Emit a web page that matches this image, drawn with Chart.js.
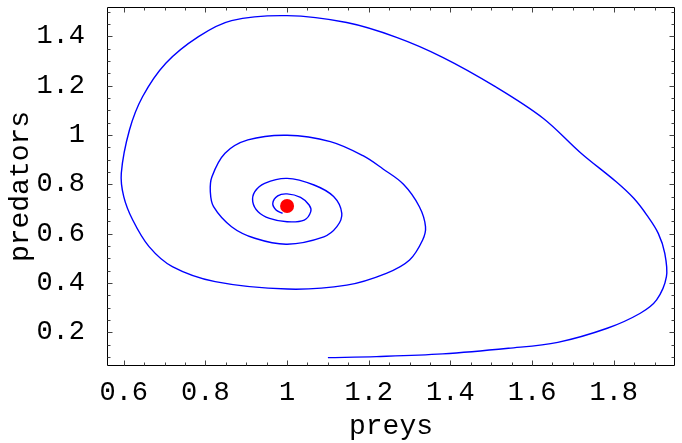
<!DOCTYPE html>
<html>
<head>
<meta charset="utf-8">
<script src="https://cdn.jsdelivr.net/npm/chart.js@4.4.1/dist/chart.umd.min.js"></script>
<style>
    html, body { margin: 0; padding: 0; background: #fff; }
    #wrap { width: 682px; height: 443px; }
</style>
</head>
<body>
<div id="wrap"><canvas id="phase" width="682" height="443"></canvas></div>
<script>
// ── Trajectory (prey, predator) read along the orbit ──
const preys = [
    1.100, 1.219, 1.381, 1.542, 1.663, 1.784, 1.865, 1.905, 1.929, 1.925,
    1.909, 1.881, 1.849, 1.806, 1.720, 1.627, 1.510, 1.381, 1.268, 1.146,
    1.000, 0.864, 0.783, 0.703, 0.646, 0.614, 0.594, 0.600, 0.622, 0.662,
    0.719, 0.824, 1.001, 1.146, 1.243, 1.300, 1.332, 1.339, 1.324, 1.285,
    1.235, 1.187, 1.106, 1.000, 0.904, 0.848, 0.816, 0.812, 0.820, 0.864,
    0.921, 1.000, 1.090, 1.122, 1.134, 1.114, 1.066, 1.000, 0.945, 0.921,
    0.916, 0.929, 0.957, 1.000, 1.042, 1.058, 1.054, 1.033, 1.000, 0.977,
    0.965, 0.973, 0.989
];
const predators = [
    0.097, 0.101, 0.112, 0.135, 0.159, 0.216, 0.277, 0.331, 0.425, 0.520,
    0.601, 0.675, 0.743, 0.810, 0.926, 1.068, 1.196, 1.315, 1.396, 1.456,
    1.484, 1.464, 1.399, 1.291, 1.155, 1.020, 0.845, 0.750, 0.655, 0.547,
    0.466, 0.405, 0.375, 0.391, 0.439, 0.493, 0.574, 0.628, 0.709, 0.800,
    0.862, 0.915, 0.973, 0.999, 0.980, 0.926, 0.831, 0.770, 0.709, 0.628,
    0.581, 0.557, 0.587, 0.628, 0.682, 0.750, 0.797, 0.824, 0.804, 0.770,
    0.729, 0.689, 0.662, 0.648, 0.655, 0.689, 0.716, 0.747, 0.761, 0.753,
    0.723, 0.696, 0.682
];

// equilibrium point
const eqPrey = 1.0;
const eqPred = 0.712;

// ── Axes ──
const xRange = [0.559, 1.950];
const yRange = [0.063, 1.519];
const xTicks = [0.6, 0.8, 1, 1.2, 1.4, 1.6, 1.8];
const yTicks = [0.2, 0.4, 0.6, 0.8, 1, 1.2, 1.4];
const minorStep = 0.05;

const FONT = "'Liberation Mono', 'Courier New', monospace";

// frame with inward tick marks on every side
const framePlugin = {
    id: 'frame',
    afterDraw(chart) {
        const { ctx, chartArea: a, scales: { x, y } } = chart;
        ctx.save();
        ctx.strokeStyle = '#000';
        ctx.lineWidth = 1;
        const L = Math.round(a.left) + 0.5, R = Math.round(a.right) - 0.5;
        const T = Math.round(a.top) + 0.5,  B = Math.round(a.bottom) - 0.5;
        ctx.beginPath();
        ctx.rect(L, T, R - L, B - T);
        ctx.stroke();

        ctx.strokeStyle = '#444';
        ctx.beginPath();
        for (let v = 0; v <= 2.0001; v += minorStep) {
            const major = Math.abs(v / 0.2 - Math.round(v / 0.2)) < 1e-6;
            const len = major ? 5 : 3;
            if (v >= xRange[0] && v <= xRange[1]) {
                const px = Math.round(x.getPixelForValue(v)) + 0.5;
                ctx.moveTo(px, B); ctx.lineTo(px, B - len);
                ctx.moveTo(px, T); ctx.lineTo(px, T + len);
            }
            if (v >= yRange[0] && v <= yRange[1]) {
                const py = Math.round(y.getPixelForValue(v)) + 0.5;
                ctx.moveTo(L, py); ctx.lineTo(L + len, py);
                ctx.moveTo(R, py); ctx.lineTo(R - len, py);
            }
        }
        ctx.stroke();
        ctx.restore();
    }
};

const orbit = preys.map((p, i) => ({ x: p, y: predators[i] }));

new Chart(document.getElementById('phase'), {
    type: 'line',
    data: {
        datasets: [
            {
                label: 'equilibrium',
                data: [{ x: eqPrey, y: eqPred }],
                showLine: false,
                pointRadius: 7,
                pointBackgroundColor: '#ff0000',
                pointBorderWidth: 0,
                order: 0,
            },
            {
                label: 'orbit',
                data: orbit,
                borderColor: '#0000ff',
                borderWidth: 1.4,
                pointRadius: 0,
                tension: 0.35,
                fill: false,
                order: 1,
            },
        ],
    },
    options: {
        responsive: false,
        animation: false,
        devicePixelRatio: 1,
        layout: { padding: { top: 7, right: 0, left: 0, bottom: 0 } },
        plugins: { legend: { display: false }, tooltip: { enabled: false } },
        scales: {
            x: {
                type: 'linear',
                min: xRange[0],
                max: xRange[1],
                grid: { display: false },
                border: { display: false },
                afterBuildTicks: s => { s.ticks = xTicks.map(v => ({ value: v })); },
                afterFit: s => { s.height = 77; s.paddingLeft = 0; s.paddingRight = 0; },
                ticks: {
                    color: '#000',
                    font: { family: FONT, size: 27 },
                    padding: 3,
                    maxRotation: 0,
                    autoSkip: false,
                    callback: v => String(v),
                },
                title: {
                    display: true,
                    text: 'preys',
                    color: '#000',
                    font: { family: FONT, size: 28 },
                    padding: { top: 0, bottom: 0 },
                },
            },
            y: {
                type: 'linear',
                min: yRange[0],
                max: yRange[1],
                grid: { display: false },
                border: { display: false },
                afterBuildTicks: s => { s.ticks = yTicks.map(v => ({ value: v })); },
                afterFit: s => { s.width = 107; s.paddingTop = 0; s.paddingBottom = 0; },
                ticks: {
                    color: '#000',
                    font: { family: FONT, size: 27 },
                    padding: 14,
                    autoSkip: false,
                    callback: v => String(v),
                },
                title: {
                    display: true,
                    text: 'predators',
                    color: '#000',
                    font: { family: FONT, size: 28 },
                    padding: { top: 4, bottom: 0 },
                },
            },
        },
    },
    plugins: [framePlugin],
});
</script>
</body>
</html>
